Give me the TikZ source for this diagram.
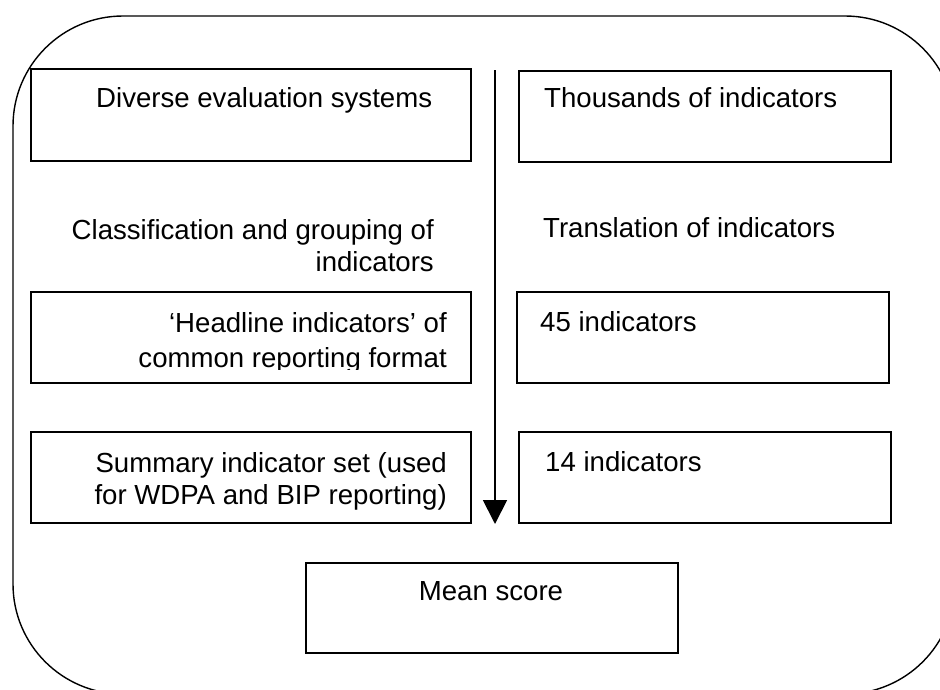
\documentclass[tikz,border=0pt]{standalone}
\usepackage{fontspec}
\setmainfont{Liberation Sans}
\usetikzlibrary{arrows.meta}
\begin{document}
\begin{tikzpicture}[x=1pt,y=-1pt,
  box/.style={draw=black,line width=1.8pt,inner sep=0pt},
  txt/.style={inner sep=0pt,font=\fontsize{27.6}{32}\selectfont},
  outer/.style={draw=black,line width=1.4pt,rounded corners=110pt}]
\useasboundingbox (0,0) rectangle (940,689);
\begin{scope}
\clip (0,0) rectangle (940,689);
\draw[outer] (13,16) rectangle (955,694);
\end{scope}
% boxes
\node[box,minimum width=440pt,minimum height=92pt] (b1) at (251,115) {};
\node[box,minimum width=372pt,minimum height=91pt] (b2) at (705,116.5) {};
\node[box,minimum width=440pt,minimum height=91pt] (b3) at (251,337.5) {};
\node[box,minimum width=372pt,minimum height=91pt] (b4) at (703,337.5) {};
\node[box,minimum width=440pt,minimum height=91pt] (b5) at (251,477.5) {};
\node[box,minimum width=372pt,minimum height=91pt] (b6) at (705,477.5) {};
\node[box,minimum width=372pt,minimum height=90pt] (b7) at (492,608) {};
% texts
\node[txt,anchor=base west] (t1) at (96,107) {Diverse evaluation systems};
\node[txt,anchor=base west] (t2) at (544,107) {Thousands of indicators};
\node[txt,anchor=base east,align=right] (t3) at (434,271) {Classification and grouping of\\indicators};
\node[txt,anchor=base west] (t4) at (543,237) {Translation of indicators};
\begin{scope}
\clip (40,290) rectangle (465,369);
\node[txt,anchor=base east,align=right,font=\fontsize{27.6}{35}\selectfont] (t5) at (447,367) {‘Headline indicators’ of\\common reporting format};
\end{scope}
\node[txt,anchor=base west] (t6) at (540,331) {45 indicators};
\node[txt,anchor=base east,align=right] (t7) at (447,504) {Summary indicator set (used\\for WDPA and BIP reporting)};
\node[txt,anchor=base west] (t8) at (545,471) {14 indicators};
\node[txt,anchor=base] (t9) at (491,600) {Mean score};
% arrow
\coordinate (atop) at (495,70);
\coordinate (abot) at (495,524);
\draw[line width=1.8pt,-{Triangle[width=24pt,length=24pt]}] (atop) -- (abot);
\end{tikzpicture}
\end{document}
